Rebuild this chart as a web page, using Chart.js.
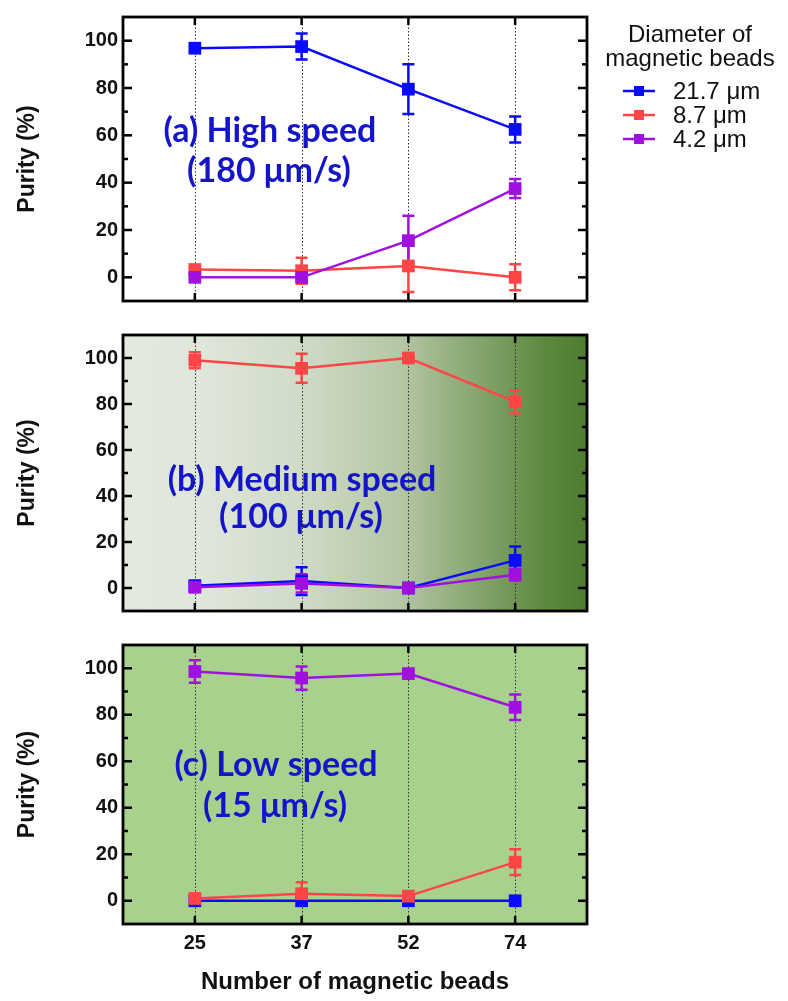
<!DOCTYPE html>
<html>
<head>
<meta charset="utf-8">
<script src="https://cdn.jsdelivr.net/npm/chart.js@4.4.0/dist/chart.umd.min.js"></script>
<style>
  body { margin: 0; background: #fff; }
  #wrap { position: relative; width: 788px; height: 1001px; }
  canvas { position: absolute; left: 0; }
</style>
</head>
<body>
<div id="wrap">
  <canvas id="panelA" width="788" height="318" style="top:0px"></canvas>
  <canvas id="panelB" width="788" height="310" style="top:318px"></canvas>
  <canvas id="panelC" width="788" height="373" style="top:628px"></canvas>
</div>
<script>
// ===== Data =====
const beadCounts = ['25', '37', '52', '74'];
const seriesLabels = ['21.7 μm', '8.7 μm', '4.2 μm'];
const seriesColors = ['#0a0aff', '#ff4545', '#a010e0'];
const yTicks = [0, 20, 40, 60, 80, 100];
const yMinorTicks = [10, 30, 50, 70, 90];

// (a) high speed
const highBlue = [96.8, 97.5, 79.5, 62.5];
const highBlueErr = [1, 5.5, 10.5, 5.5];
const highRed = [3.3, 2.8, 4.8, 0];
const highRedErr = [1.2, 5.5, 11, 5.5];
const highPurple = [0, 0, 15.5, 37.5];
const highPurpleErr = [1, 1, 10.5, 4];

// (b) medium speed
const medBlue = [1, 3, 0, 12];
const medBlueErr = [2, 6, 0.5, 6];
const medRed = [99, 95.5, 100, 81];
const medRedErr = [3.5, 6.3, 1, 5];
const medPurple = [0.3, 2, 0, 5.8];
const medPurpleErr = [1, 4, 0.5, 2.5];

// (c) low speed
const lowBlue = [0, 0, 0, 0];
const lowBlueErr = [0, 0, 0, 0];
const lowRed = [1, 3, 2, 16.6];
const lowRedErr = [1, 5, 1, 5.5];
const lowPurple = [98.6, 95.8, 97.7, 83.2];
const lowPurpleErr = [4.8, 5, 1, 5.5];

const labelFont = 'Liberation Sans, Arial, sans-serif';
const noteFont = 'Lato, Open Sans, sans-serif';
const noteColor = '#1414c8';

// ===== Panel decoration: background, note, dotted grid, error bars, frame =====
const framePlugin = {
  id: 'frame',
  beforeDatasetsDraw(chart, args, opts) {
    const { ctx, chartArea: a, scales: { x, y } } = chart;
    ctx.save();

    // background
    if (opts.gradient) {
      const g = ctx.createLinearGradient(a.left, 0, a.right, 0);
      opts.gradient.forEach(([stop, col]) => g.addColorStop(stop, col));
      ctx.fillStyle = g;
      ctx.fillRect(a.left, a.top, a.width, a.height);
    } else if (opts.fill) {
      ctx.fillStyle = opts.fill;
      ctx.fillRect(a.left, a.top, a.width, a.height);
    }

    // panel note
    ctx.fillStyle = noteColor;
    ctx.font = 'bold 34px ' + noteFont;
    ctx.textAlign = 'center';
    ctx.textBaseline = 'alphabetic';
    opts.note.forEach((line, i) => {
      const n = opts.notePos[i];
      ctx.fillText(line, n.x, a.top + n.y, n.w);
    });

    // dotted vertical grid
    ctx.strokeStyle = '#333';
    ctx.lineWidth = 1;
    ctx.setLineDash([1.5, 2]);
    beadCounts.forEach((_, i) => {
      const px = Math.round(x.getPixelForValue(i)) + 0.5;
      ctx.beginPath();
      ctx.moveTo(px, a.top);
      ctx.lineTo(px, a.bottom);
      ctx.stroke();
    });
    ctx.setLineDash([]);

    // error bars
    chart.data.datasets.forEach(ds => {
      ctx.strokeStyle = ds.borderColor;
      ctx.lineWidth = 2.5;
      ds.errors.forEach((e, i) => {
        if (!e) return;
        const v = ds.data[i].y;
        const px = x.getPixelForValue(i);
        const top = y.getPixelForValue(v + e);
        const bot = y.getPixelForValue(v - e);
        ctx.beginPath();
        ctx.moveTo(px, top); ctx.lineTo(px, bot);
        ctx.moveTo(px - 6, top); ctx.lineTo(px + 6, top);
        ctx.moveTo(px - 6, bot); ctx.lineTo(px + 6, bot);
        ctx.stroke();
      });
    });
    ctx.restore();
  },
  afterDatasetsDraw(chart) {
    const { ctx, chartArea: a, scales: { x, y } } = chart;
    ctx.save();
    ctx.strokeStyle = '#000';
    ctx.lineWidth = 2.5;
    const tick = (x1, y1, x2, y2) => {
      ctx.beginPath(); ctx.moveTo(x1, y1); ctx.lineTo(x2, y2); ctx.stroke();
    };
    yTicks.forEach(v => {
      const py = y.getPixelForValue(v);
      tick(a.left, py, a.left + 9, py);
      tick(a.right, py, a.right - 9, py);
    });
    yMinorTicks.forEach(v => {
      const py = y.getPixelForValue(v);
      tick(a.left, py, a.left + 5, py);
      tick(a.right, py, a.right - 5, py);
    });
    beadCounts.forEach((_, i) => {
      const px = x.getPixelForValue(i);
      tick(px, a.top, px, a.top + 8);
      tick(px, a.bottom, px, a.bottom - 8);
    });
    ctx.lineWidth = 2.8;
    ctx.strokeRect(a.left, a.top, a.width, a.height);
    ctx.restore();
  }
};

// ===== Legend (top panel only) =====
const legendPlugin = {
  id: 'sideLegend',
  afterDraw(chart, args, opts) {
    if (!opts.show) return;
    const { ctx } = chart;
    ctx.save();
    ctx.fillStyle = '#111';
    ctx.font = '24px ' + labelFont;
    ctx.textAlign = 'center';
    ctx.textBaseline = 'alphabetic';
    ctx.fillText('Diameter of', 690, 42);
    ctx.fillText('magnetic beads', 690, 66);
    ctx.textAlign = 'left';
    ctx.font = '24px ' + labelFont;
    seriesLabels.forEach((label, i) => {
      const cy = 91 + i * 24;
      ctx.strokeStyle = seriesColors[i];
      ctx.fillStyle = seriesColors[i];
      ctx.lineWidth = 2.5;
      ctx.beginPath(); ctx.moveTo(623, cy); ctx.lineTo(655, cy); ctx.stroke();
      ctx.fillRect(634, cy - 5, 10, 10);
      ctx.fillStyle = '#111';
      ctx.fillText(label, 673, cy + 8);
    });
    ctx.restore();
  }
};

function buildDatasets(values, errors) {
  return values.map((vals, k) => ({
    label: seriesLabels[k],
    data: vals.map((v, i) => ({ x: i, y: v })),
    errors: errors[k],
    borderColor: seriesColors[k],
    backgroundColor: seriesColors[k],
    borderWidth: 2.5,
    pointStyle: 'rect',
    pointRadius: 9,
    pointBorderWidth: 0,
    order: 3 - k
  }));
}

function makePanel(id, values, errors, frame, padding, withXAxis, showLegend) {
  return new Chart(document.getElementById(id), {
    type: 'line',
    data: { datasets: buildDatasets(values, errors) },
    options: {
      responsive: false,
      animation: false,
      devicePixelRatio: 1,
      layout: { padding },
      plugins: {
        legend: { display: false },
        tooltip: { enabled: false },
        frame,
        sideLegend: { show: showLegend }
      },
      scales: {
        x: {
          type: 'linear',
          min: -0.673,
          max: 3.673,
          display: withXAxis,
          afterBuildTicks: s => { s.ticks = beadCounts.map((_, i) => ({ value: i })); },
          afterFit: s => { if (withXAxis) s.height = 77; },
          grid: { display: false, drawTicks: false },
          border: { display: false },
          ticks: {
            callback: v => beadCounts[v],
            padding: 7,
            color: '#111',
            font: { family: labelFont, size: 20, weight: 'bold' }
          },
          title: {
            display: true,
            text: 'Number of magnetic beads',
            color: '#111',
            padding: { top: 0, bottom: 4 },
            font: { family: labelFont, size: 24, weight: 'bold' }
          }
        },
        y: {
          min: -10,
          max: 110,
          afterBuildTicks: s => { s.ticks = yTicks.map(v => ({ value: v })); },
          afterFit: s => { s.width = 123; },
          grid: { display: false, drawTicks: false },
          border: { display: false },
          ticks: {
            padding: 5,
            color: '#111',
            font: { family: labelFont, size: 20, weight: 'bold' }
          },
          title: {
            display: true,
            text: 'Purity (%)',
            color: '#111',
            padding: { top: 14, bottom: 0 },
            font: { family: labelFont, size: 23, weight: 'bold' }
          }
        }
      }
    },
    plugins: [framePlugin, legendPlugin]
  });
}

makePanel('panelA',
  [highBlue, highRed, highPurple],
  [highBlueErr, highRedErr, highPurpleErr],
  {
    fill: null,
    note: ['(a) High speed', '(180 μm/s)'],
    notePos: [{ x: 270, y: 125, w: 218 }, { x: 269, y: 165, w: 164 }]
  },
  { left: 0, right: 201, top: 17, bottom: 12 }, false, true);

makePanel('panelB',
  [medBlue, medRed, medPurple],
  [medBlueErr, medRedErr, medPurpleErr],
  {
    gradient: [[0, '#e4e9e0'], [0.17, '#dfe6da'], [0.38, '#d0dbc8'], [0.6, '#b4c6a4'],
               [0.75, '#8aa873'], [0.9, '#5f8a43'], [1, '#4d7c30']],
    note: ['(b) Medium speed', '(100 μm/s)'],
    notePos: [{ x: 302, y: 156, w: 280 }, { x: 301, y: 193, w: 164 }]
  },
  { left: 0, right: 201, top: 8, bottom: 12 }, false, false);

makePanel('panelC',
  [lowBlue, lowRed, lowPurple],
  [lowBlueErr, lowRedErr, lowPurpleErr],
  {
    fill: '#a9d18e',
    note: ['(c) Low speed', '(15 μm/s)'],
    notePos: [{ x: 276, y: 131, w: 210 }, { x: 275, y: 172, w: 146 }]
  },
  { left: 0, right: 201, top: 8, bottom: 0 }, true, false);
</script>
</body>
</html>
